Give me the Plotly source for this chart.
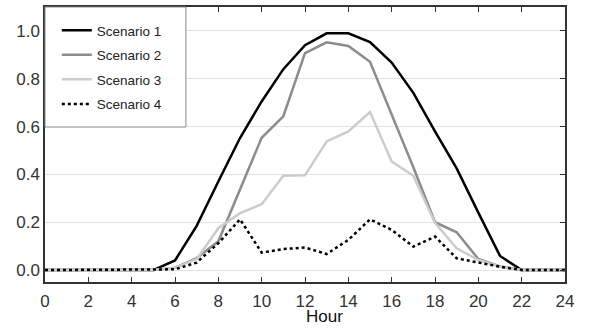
import plotly.graph_objects as go

hours = list(range(25))
tick_vals = [0, 2, 4, 6, 8, 10, 12, 14, 16, 18, 20, 22, 24]
y_ticks = [0.0, 0.2, 0.4, 0.6, 0.8, 1.0]

scenario1 = [0, 0, 0, 0, 0, 0, 0.04, 0.185, 0.37, 0.552, 0.705, 0.84, 0.94, 0.99, 0.99, 0.953, 0.868, 0.741, 0.58, 0.425, 0.24, 0.059, 0, 0, 0]
scenario2 = [0, 0, 0, 0, 0, 0, 0.01, 0.05, 0.12, 0.335, 0.553, 0.643, 0.907, 0.952, 0.937, 0.871, 0.651, 0.43, 0.2, 0.158, 0.046, 0.015, 0, 0, 0]
scenario3 = [0, 0, 0, 0, 0, 0, 0.01, 0.045, 0.175, 0.238, 0.275, 0.394, 0.396, 0.538, 0.58, 0.661, 0.454, 0.394, 0.197, 0.091, 0.042, 0.014, 0, 0, 0]
scenario4 = [0, 0, 0, 0, 0, 0, 0.003, 0.031, 0.112, 0.212, 0.073, 0.088, 0.094, 0.067, 0.126, 0.212, 0.168, 0.098, 0.14, 0.049, 0.031, 0.014, 0, 0, 0]

names = ["Scenario 1", "Scenario 2", "Scenario 3", "Scenario 4"]
series = [scenario1, scenario2, scenario3, scenario4]
colors = ["#000000", "#8c8c8c", "#cccccc", "#000000"]
dashes = ["solid", "solid", "solid", "dot"]

fig = go.Figure()
for n, s, c, d in zip(names, series, colors, dashes):
    fig.add_trace(go.Scatter(x=hours, y=s, mode="lines", name=n,
                             line=dict(color=c, width=2.5, dash=d),
                             legendgroup=n))
# invisible trace for right-side tick axis
fig.add_trace(go.Scatter(x=[0], y=[0], yaxis="y2", mode="lines",
                         line=dict(width=0), showlegend=False, hoverinfo="skip"))

font = dict(family="Liberation Sans, Arial, sans-serif", size=17, color="#333333")
fig.update_layout(
    width=590, height=331,
    margin=dict(l=45, r=25, t=7, b=49),
    paper_bgcolor="white", plot_bgcolor="white",
    font=font,
    showlegend=True,
    legend=dict(x=0.0227, y=0.971, xanchor="left", yanchor="top",
                bgcolor="rgba(0,0,0,0)", borderwidth=0,
                font=dict(family="Liberation Sans, Arial, sans-serif", size=13.5, color="#222222"),
                tracegroupgap=4),
    xaxis=dict(range=[0, 24], tickvals=tick_vals, ticks="inside", ticklen=5,
               tickcolor="#333333", showline=True, linecolor="#333333", linewidth=1.5,
               mirror="ticks", showgrid=False, zeroline=False, tickfont=font,
               automargin=False, ticklabelstandoff=3),
    yaxis=dict(range=[-0.05, 1.1], tickvals=y_ticks, tickformat=".1f", ticks="",
               showline=True, linecolor="#333333", linewidth=1.5, mirror=True,
               showgrid=True, gridcolor="#e3e3e3", gridwidth=1, zeroline=False,
               tickfont=font, automargin=False),
    yaxis2=dict(range=[-0.05, 1.1], tickvals=y_ticks, overlaying="y", side="right",
                ticks="inside", ticklen=5, tickcolor="#333333", showticklabels=False,
                showgrid=False, zeroline=False, showline=False, automargin=False),
    shapes=[dict(type="rect", xref="paper", yref="paper", x0=0, x1=0.271,
                 y0=0.5636, y1=1, fillcolor="white", layer="above",
                 line=dict(color="#888888", width=1))],
    annotations=[dict(text="Hour", x=12.9, xref="x", y=-0.127, yref="paper",
                      showarrow=False, xanchor="center", yanchor="middle",
                      font=dict(family="Liberation Sans, Arial, sans-serif", size=17, color="#111111"))],
)

fig.write_html("out.html", config={"displayModeBar": False},
               post_script="document.body.style.margin='0';document.body.style.overflow='hidden';")
